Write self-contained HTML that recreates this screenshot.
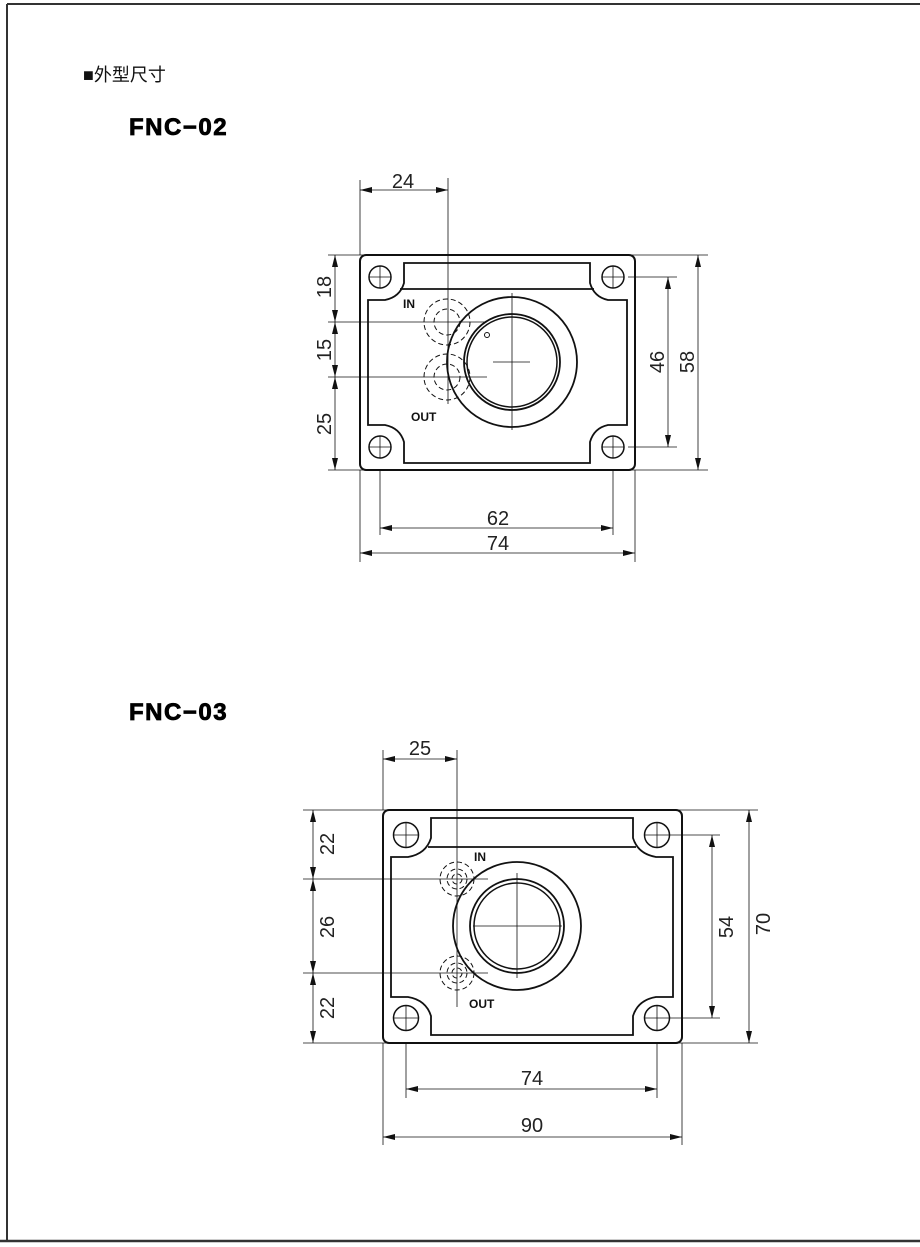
<!DOCTYPE html>
<html><head><meta charset="utf-8"><style>
html,body{margin:0;padding:0;background:#fff}
svg{display:block}
.t{font-family:"Liberation Sans",sans-serif;font-size:20px;fill:#222;text-anchor:middle}
.l{font-family:"Liberation Sans",sans-serif;font-size:12px;font-weight:bold;fill:#111}
.h{font-family:"Liberation Sans",sans-serif;font-size:24px;font-weight:900;fill:#000;letter-spacing:1.5px;stroke:#000;stroke-width:0.8px}
</style></head><body>
<svg width="920" height="1247" viewBox="0 0 920 1247" xmlns="http://www.w3.org/2000/svg">
<defs>
<marker id="a" viewBox="0 0 12 6" refX="12" refY="3" markerWidth="12" markerHeight="6" orient="auto-start-reverse" markerUnits="userSpaceOnUse"><path d="M0,0 L12,3 L0,6 Z" fill="#111"/></marker>
</defs>
<line x1="7" y1="4" x2="920" y2="4" stroke="#333" stroke-width="2"/>
<line x1="7" y1="4" x2="7" y2="1241" stroke="#333" stroke-width="2"/>
<line x1="0" y1="1241" x2="920" y2="1241" stroke="#333" stroke-width="2.5"/>
<text x="83" y="81" style="font-family:'Liberation Sans','Noto Sans CJK SC',sans-serif;font-size:18px;fill:#111">■外型尺寸</text>
<text class="h" x="129" y="135">FNC−02</text>
<text class="h" x="129" y="720">FNC−03</text>

<g fill="none" stroke="#111">
<rect x="360" y="255" width="275" height="215" rx="6" stroke-width="2"/>
<path d="M368,300 H385 Q400,297 404,283 V263 H590 V283 Q594,297 608,300 H627 V425 H608 Q594,428 590,442 V463 H404 V442 Q400,428 385,425 H368 Z" stroke-width="1.8"/>
<line x1="400" y1="289" x2="594" y2="289" stroke-width="1.8"/>
<g stroke-width="1.5">
<circle cx="380" cy="277" r="11"/><circle cx="613" cy="277" r="11"/>
<circle cx="380" cy="447" r="11"/><circle cx="613" cy="447" r="11"/>
</g>
<g stroke-width="0.8">
<path d="M369,277 H391 M380,266 V288 M602,277 H624 M613,266 V288 M369,447 H391 M380,436 V458 M602,447 H624 M613,436 V458"/>
</g>
<circle cx="512" cy="362" r="65" stroke-width="1.8"/>
<circle cx="512" cy="362" r="48" stroke-width="1.8"/>
<circle cx="512" cy="362" r="45" stroke-width="1.5"/>
<circle cx="487" cy="335" r="2.5" stroke-width="1"/>
<path d="M512,293 V430 M493,362 H530" stroke-width="0.8"/>
<g stroke-width="1" stroke-dasharray="5,3">
<circle cx="447" cy="322" r="23"/><circle cx="447" cy="322" r="13"/>
<circle cx="447" cy="377" r="23"/><circle cx="447" cy="377" r="13"/>
</g>
<g stroke-width="0.8">
<line x1="328" y1="322" x2="487" y2="322"/>
<line x1="328" y1="377" x2="487" y2="377"/>
<line x1="448" y1="178" x2="448" y2="404"/>
<line x1="360" y1="180" x2="360" y2="255"/>
<line x1="328" y1="255" x2="708" y2="255"/>
<line x1="328" y1="470" x2="708" y2="470"/>
<line x1="628" y1="277" x2="677" y2="277"/>
<line x1="628" y1="447" x2="677" y2="447"/>
<line x1="380" y1="470" x2="380" y2="535"/>
<line x1="613" y1="470" x2="613" y2="535"/>
<line x1="360" y1="470" x2="360" y2="562"/>
<line x1="635" y1="470" x2="635" y2="562"/>
<line x1="360" y1="190" x2="448" y2="190" marker-start="url(#a)" marker-end="url(#a)"/>
<line x1="335" y1="255" x2="335" y2="322" marker-start="url(#a)" marker-end="url(#a)"/>
<line x1="335" y1="322" x2="335" y2="377" marker-start="url(#a)" marker-end="url(#a)"/>
<line x1="335" y1="377" x2="335" y2="470" marker-start="url(#a)" marker-end="url(#a)"/>
<line x1="668" y1="277" x2="668" y2="447" marker-start="url(#a)" marker-end="url(#a)"/>
<line x1="698" y1="255" x2="698" y2="470" marker-start="url(#a)" marker-end="url(#a)"/>
<line x1="380" y1="528" x2="613" y2="528" marker-start="url(#a)" marker-end="url(#a)"/>
<line x1="360" y1="553" x2="635" y2="553" marker-start="url(#a)" marker-end="url(#a)"/>
</g>

<rect x="383" y="810" width="299" height="233" rx="6" stroke-width="2"/>
<path d="M391,857 H408 Q426,854 431,838 V818 H633 V838 Q638,854 656,857 H673 V997 H656 Q638,1000 633,1016 V1035 H431 V1016 Q426,1000 408,997 H391 Z" stroke-width="1.8"/>
<line x1="428" y1="847" x2="636" y2="847" stroke-width="1.8"/>
<g stroke-width="1.5">
<circle cx="406" cy="835" r="12.5"/><circle cx="657" cy="835" r="12.5"/>
<circle cx="406" cy="1018" r="12.5"/><circle cx="657" cy="1018" r="12.5"/>
</g>
<g stroke-width="0.8">
<path d="M394,835 H418 M406,823 V847 M645,835 H669 M657,823 V847 M394,1018 H418 M406,1006 V1030 M645,1018 H669 M657,1006 V1030"/>
</g>
<circle cx="517" cy="926" r="64" stroke-width="1.8"/>
<circle cx="517" cy="926" r="47" stroke-width="1.8"/>
<circle cx="517" cy="926" r="43" stroke-width="1.5"/>
<path d="M517,873 V978 M473,926 H562" stroke-width="0.8"/>
<g stroke-width="1" stroke-dasharray="5,3">
<circle cx="457" cy="879" r="17"/><circle cx="457" cy="879" r="10"/><circle cx="457" cy="879" r="5"/>
<circle cx="457" cy="973" r="17"/><circle cx="457" cy="973" r="10"/><circle cx="457" cy="973" r="5"/>
</g>
<g stroke-width="0.8">
<line x1="303" y1="879" x2="488" y2="879"/>
<line x1="303" y1="973" x2="488" y2="973"/>
<line x1="457" y1="750" x2="457" y2="1007"/>
<line x1="383" y1="750" x2="383" y2="810"/>
<line x1="303" y1="810" x2="758" y2="810"/>
<line x1="303" y1="1043" x2="758" y2="1043"/>
<line x1="670" y1="835" x2="720" y2="835"/>
<line x1="670" y1="1018" x2="720" y2="1018"/>
<line x1="406" y1="1043" x2="406" y2="1098"/>
<line x1="657" y1="1043" x2="657" y2="1098"/>
<line x1="383" y1="1043" x2="383" y2="1145"/>
<line x1="682" y1="1043" x2="682" y2="1145"/>
<line x1="383" y1="759" x2="457" y2="759" marker-start="url(#a)" marker-end="url(#a)"/>
<line x1="313" y1="810" x2="313" y2="879" marker-start="url(#a)" marker-end="url(#a)"/>
<line x1="313" y1="879" x2="313" y2="973" marker-start="url(#a)" marker-end="url(#a)"/>
<line x1="313" y1="973" x2="313" y2="1043" marker-start="url(#a)" marker-end="url(#a)"/>
<line x1="712" y1="835" x2="712" y2="1018" marker-start="url(#a)" marker-end="url(#a)"/>
<line x1="749" y1="810" x2="749" y2="1043" marker-start="url(#a)" marker-end="url(#a)"/>
<line x1="406" y1="1089" x2="657" y2="1089" marker-start="url(#a)" marker-end="url(#a)"/>
<line x1="383" y1="1137" x2="682" y2="1137" marker-start="url(#a)" marker-end="url(#a)"/>
</g>
</g>

<text class="t" x="403" y="188">24</text>
<text class="t" x="498" y="525">62</text>
<text class="t" x="498" y="550">74</text>
<text class="t" transform="translate(331,287) rotate(-90)">18</text>
<text class="t" transform="translate(331,350) rotate(-90)">15</text>
<text class="t" transform="translate(331,424) rotate(-90)">25</text>
<text class="t" transform="translate(664,362) rotate(-90)">46</text>
<text class="t" transform="translate(694,362) rotate(-90)">58</text>
<text class="l" x="403" y="308">IN</text>
<text class="l" x="411" y="421">OUT</text>
<text class="t" x="420" y="755">25</text>
<text class="t" x="532" y="1085">74</text>
<text class="t" x="532" y="1132">90</text>
<text class="t" transform="translate(334,844) rotate(-90)">22</text>
<text class="t" transform="translate(334,927) rotate(-90)">26</text>
<text class="t" transform="translate(334,1008) rotate(-90)">22</text>
<text class="t" transform="translate(733,927) rotate(-90)">54</text>
<text class="t" transform="translate(770,924) rotate(-90)">70</text>
<text class="l" x="474" y="861">IN</text>
<text class="l" x="469" y="1008">OUT</text>
</svg>
</body></html>
